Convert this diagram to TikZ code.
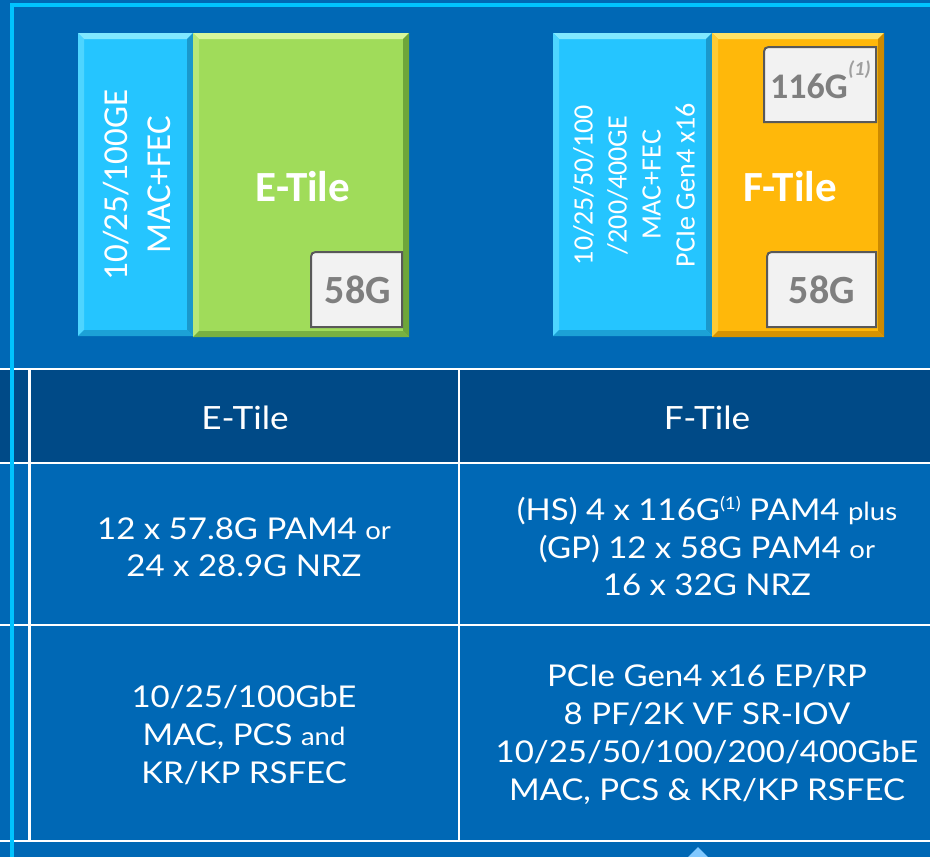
\documentclass[tikz,border=0pt]{standalone}
\usepackage{fontspec}
\setmainfont{Lato}[FakeStretch=1.1]
\newfontfamily\calib{Carlito}

\definecolor{bg}{HTML}{0068B5}
\definecolor{framecyan}{HTML}{00C3FF}
\definecolor{hdrblue}{HTML}{004A87}
\definecolor{tilecyan}{HTML}{25C5FF}
\definecolor{tilecyanL}{HTML}{80E8FF}
\definecolor{tilecyanD}{HTML}{1A98CC}
\definecolor{tilegreen}{HTML}{A0DC5A}
\definecolor{tilegreenL}{HTML}{D6F79C}
\definecolor{tilegreenD}{HTML}{6EA63A}
\definecolor{tileorange}{HTML}{FFB80A}
\definecolor{tileorangeL}{HTML}{FFE266}
\definecolor{tileorangeD}{HTML}{CC8A00}
\definecolor{chipfill}{HTML}{F2F2F2}
\definecolor{chipline}{HTML}{595959}
\definecolor{chiptext}{HTML}{7F7F7F}
\definecolor{pointer}{HTML}{80C8FF}

% bevelled tile: x1 y1 x2 y2 base light dark
\newcommand{\bevelbox}[7]{%
  \fill[#5] (#1,#2) rectangle (#3,#4);
  \fill[#6] (#1,#2) -- (#3,#2) -- (#3-6,#2+6) -- (#1+6,#2+6) -- cycle;
  \fill[#6!45!#5] (#1,#2) -- (#1+6,#2+6) -- (#1+6,#4-6) -- (#1,#4) -- cycle;
  \fill[#7] (#3,#2) -- (#3,#4) -- (#3-6,#4-6) -- (#3-6,#2+6) -- cycle;
  \fill[#7!80!#5] (#1,#4) -- (#3,#4) -- (#3-6,#4-6) -- (#1+6,#4-6) -- cycle;
}
% transceiver chip outline with one rounded corner: x1 y1 x2 y2
\newcommand{\chipbox}[4]{%
  \draw[fill=chipfill, draw=chipline, line width=2pt]
    (#1,#4) -- (#1,#2+10) .. controls (#1,#2) .. (#1+10,#2)
    -- (#3,#2) -- (#3,#4) -- cycle;
}

\tikzset{
  rotlabel/.style={text=white, rotate=90, align=center, inner sep=0pt},
  tilename/.style={text=white, font=\calib\bfseries\fontsize{43}{43}\selectfont, inner sep=0pt},
  chiplabel/.style={text=chiptext, font=\calib\bfseries\fontsize{40}{40}\selectfont, inner sep=0pt},
  grid/.style={white, line width=2.5pt},
  hdrtext/.style={text=white, font=\fontsize{32}{32}\selectfont, inner sep=0pt},
  celltext/.style={text=white, align=center, inner sep=0pt},
}
\newcommand{\sm}[1]{{\fontsize{25}{25}\selectfont #1}}

\begin{document}
\begin{tikzpicture}[x=1pt,y=-1pt]
\useasboundingbox (0,0) rectangle (930,857);
\fill[bg] (0,0) rectangle (930,857);

% ---- E-Tile block ----
\bevelbox{78}{33}{193}{336}{tilecyan}{tilecyanL}{tilecyanD}
\bevelbox{193}{33}{409}{337}{tilegreen}{tilegreenL}{tilegreenD}
\chipbox{311}{252}{402}{327}
\node[rotlabel, font=\calib\fontsize{35}{43}\selectfont] (emac) at (136.5,185) {10/25/100GE\\MAC+FEC};
\node[tilename] (ename) at (303,187) {E-Tile};
\node[chiplabel] (e58) at (358,290) {58G};

% ---- F-Tile block ----
\bevelbox{553}{33}{712}{336}{tilecyan}{tilecyanL}{tilecyanD}
\bevelbox{712}{33}{884}{337}{tileorange}{tileorangeL}{tileorangeD}
\chipbox{764}{47}{876}{122}
\chipbox{767}{252}{876}{327}
\node[rotlabel, font=\calib\fontsize{28}{34}\selectfont] (fmac) at (634,185)
  {10/25/50/100\\/200/400GE\\MAC+FEC\\PCIe Gen4 x16};
\node[tilename] (fname) at (790,187) {F-Tile};
\node[chiplabel, font=\calib\bfseries\fontsize{36}{36}\selectfont] (f116) at (809,86) {116G};
\node[text=chiptext!75!white, font=\calib\bfseries\itshape\fontsize{20}{20}\selectfont, inner sep=0pt, anchor=west] (f116n) at (f116.east |- 0,70) {(1)};
\node[chiplabel] (f58) at (822,290) {58G};

% ---- comparison table ----
\fill[hdrblue] (0,370) rectangle (930,463);
\draw[grid] (0,369) -- (930,369);
\draw[grid] (0,463) -- (930,463);
\draw[grid] (0,625) -- (930,625);
\draw[grid] (0,841) -- (930,841);
\draw[grid] (29.5,369) -- (29.5,841);
\draw[grid] (459,369) -- (459,841);

\node[hdrtext] (he) at (245,418) {E-Tile};
\node[hdrtext] (hf) at (707,418) {F-Tile};

\node[celltext, font=\fontsize{30}{37}\selectfont] (elanes) at (244,547)
  {12 x 57.8G PAM4 \sm{or}\\24 x 28.9G NRZ};
\node[celltext, font=\fontsize{30}{37.5}\selectfont] (flanes) at (707,546)
  {(HS) 4 x 116G\raisebox{0.75ex}{\fontsize{17}{17}\selectfont(1)} PAM4 \sm{plus}\\(GP) 12 x 58G PAM4 \sm{or}\\16 x 32G NRZ};
\node[celltext, font=\fontsize{30}{38}\selectfont] (eip) at (244,735)
  {10/25/100GbE\\MAC, PCS \sm{and}\\KR/KP RSFEC};
\node[celltext, font=\fontsize{30}{38.3}\selectfont] (fip) at (707,734.5)
  {PCIe Gen4 x16 EP/RP\\8 PF/2K VF SR-IOV\\10/25/50/100/200/400GbE\\MAC, PCS \& KR/KP RSFEC};

% outer frame and slide pointer
\fill[framecyan] (9.5,3) rectangle (930,7);
\fill[framecyan] (9.5,3) rectangle (13.5,857);
\fill[pointer] (688,857) -- (698,847) -- (708,857) -- cycle;
\end{tikzpicture}
\end{document}
